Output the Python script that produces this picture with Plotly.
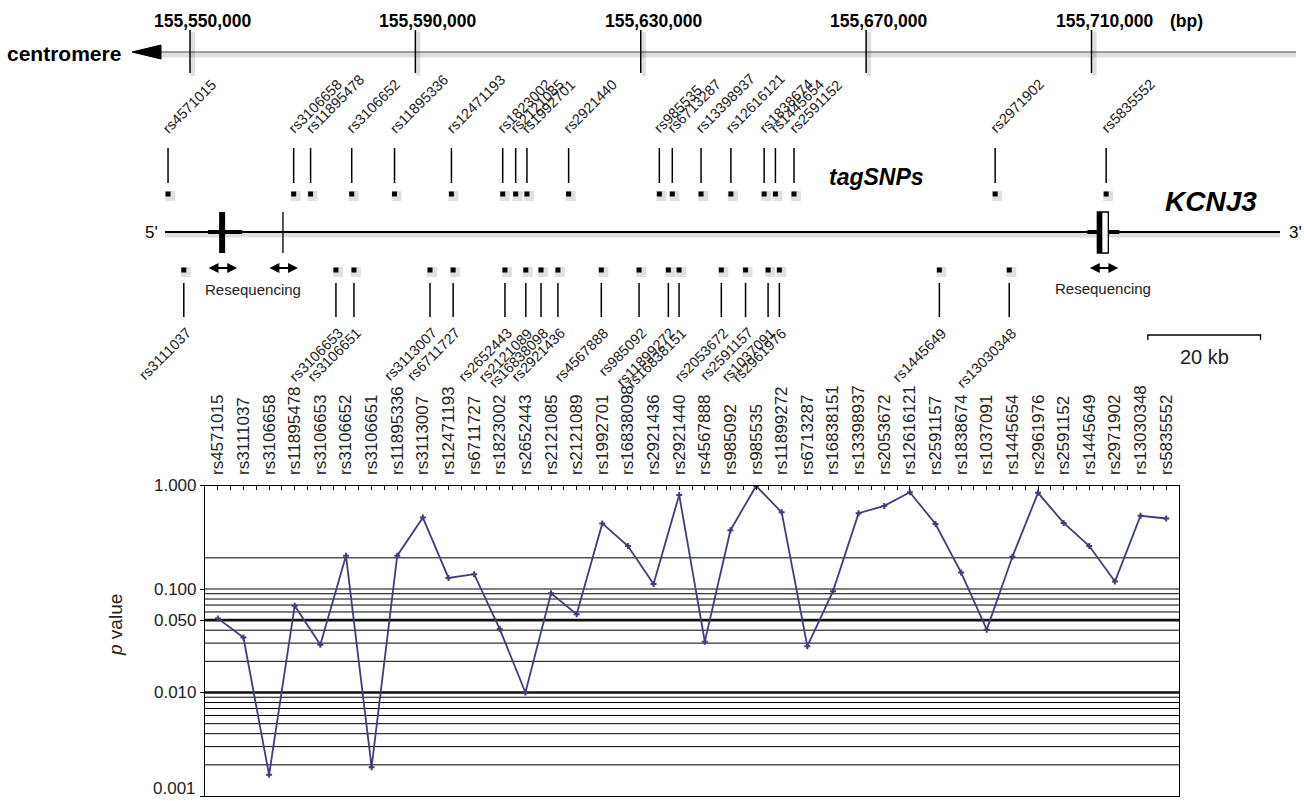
import numpy as np
import plotly.graph_objects as go

W, H = 1304, 801
FONT = "Liberation Sans, Arial, Helvetica, sans-serif"

# ---------------------------------------------------------------- data
# genomic coordinate ruler (bp)
region_ticks = [155550000, 155590000, 155630000, 155670000, 155710000]
region_tick_labels = ["155,550,000", "155,590,000", "155,630,000", "155,670,000", "155,710,000"]

# tag SNPs shown above the gene
tag_snp_ids = ["rs4571015", "rs3106658", "rs11895478", "rs3106652", "rs11895336",
               "rs12471193", "rs1823002", "rs2121085", "rs1992701", "rs2921440",
               "rs985535", "rs6713287", "rs13398937", "rs12616121", "rs1838674",
               "rs1445654", "rs2591152", "rs2971902", "rs5835552"]
tag_snp_pos = [155546100, 155568400, 155571400, 155578700, 155586300,
               155596400, 155605500, 155607800, 155609800, 155617200,
               155633300, 155635600, 155640700, 155646000, 155651900,
               155653900, 155657200, 155692900, 155712600]

# SNPs shown below the gene
other_snp_ids = ["rs3111037", "rs3106653", "rs3106651", "rs3113007", "rs6711727",
                 "rs2652443", "rs2121089", "rs16838098", "rs2921436", "rs4567888",
                 "rs985092", "rs11899272", "rs16838151", "rs2053672", "rs2591157",
                 "rs1037091", "rs2961976", "rs1445649", "rs13030348"]
other_snp_pos = [155548900, 155575900, 155579100, 155592600, 155596700,
                 155605900, 155609600, 155612300, 155615300, 155623000,
                 155629700, 155634900, 155636800, 155644300, 155648600,
                 155652600, 155654600, 155683000, 155695400]

# gene structure (bp)
exon_5p = 155555700
intron_mark = 155566500
exon_3p = 155712100
reseq_centres = [155555700, 155566500, 155712100]
scale_bar_bp = [155720000, 155740000]

# association results, ordered by position
assoc_snps = ["rs4571015", "rs3111037", "rs3106658", "rs11895478", "rs3106653",
              "rs3106652", "rs3106651", "rs11895336", "rs3113007", "rs12471193",
              "rs6711727", "rs1823002", "rs2652443", "rs2121085", "rs2121089",
              "rs1992701", "rs16838098", "rs2921436", "rs2921440", "rs4567888",
              "rs985092", "rs985535", "rs11899272", "rs6713287", "rs16838151",
              "rs13398937", "rs2053672", "rs12616121", "rs2591157", "rs1838674",
              "rs1037091", "rs1445654", "rs2961976", "rs2591152", "rs1445649",
              "rs2971902", "rs13030348", "rs5835552"]
assoc_p = [0.052, 0.034, 0.0016, 0.069, 0.029,
           0.21, 0.0019, 0.21, 0.49, 0.128,
           0.139, 0.041, 0.010, 0.091, 0.057,
           0.43, 0.26, 0.112, 0.81, 0.031,
           0.37, 0.99, 0.55, 0.028, 0.095,
           0.54, 0.635, 0.86, 0.425, 0.144,
           0.0405, 0.205, 0.85, 0.435, 0.26,
           0.118, 0.51, 0.48]

grid_p = [0.2, 0.1, 0.09, 0.08, 0.07, 0.06, 0.04, 0.03, 0.02,
          0.009, 0.008, 0.007, 0.006, 0.005, 0.004, 0.003, 0.002]
bold_p = [0.05, 0.01]
p_ticks = [1.0, 0.1, 0.05, 0.01, 0.001]
p_tick_labels = ["1.000", "0.100", "0.050", "0.010", "0.001"]

# ---------------------------------------------------------------- geometry
# upper panel: x2 in bp, y2 in screen pixels (0 at top)
PX_TICK0, PX_TICK_LAST = 190.0, 1091.5
BPP = (region_ticks[-1] - region_ticks[0]) / (PX_TICK_LAST - PX_TICK0)  # bp per pixel
x2_left = region_ticks[0] - PX_TICK0 * BPP
x2_right = x2_left + W * BPP


def px(v):
    """pixel distance -> bp distance in the upper panel"""
    return v * BPP


def xp(v):
    """screen x pixel -> paper fraction"""
    return v / W


AXIS_Y = 52
GENE_Y = 232
TAG_TICK = (148, 183)
TAG_SQ_Y = 194
LOW_SQ_Y = 270
LOW_TICK = (283, 317)
SHADOW = "rgba(0,0,0,0.13)"

fig = go.Figure()
shapes = []
ann = []

# ---- chromosome ruler
shapes.append(dict(type="line", xref="paper", yref="y2", x0=xp(160), x1=xp(1296),
                   y0=AXIS_Y + 3, y1=AXIS_Y + 3, line=dict(color=SHADOW, width=5)))
shapes.append(dict(type="line", xref="paper", yref="y2", x0=xp(158), x1=xp(1296),
                   y0=AXIS_Y, y1=AXIS_Y, line=dict(color="#444", width=1.2)))
shapes.append(dict(type="path", xref="paper", yref="y2",
                   path=f"M {xp(132)},{AXIS_Y} L {xp(161)},{AXIS_Y - 7} L {xp(161)},{AXIS_Y + 7} Z",
                   fillcolor="black", line=dict(color="black", width=1)))
ann.append(dict(x=xp(123), y=AXIS_Y + 1, xref="paper", yref="y2", text="<b>centromere</b>",
                showarrow=False, xanchor="right", yanchor="middle",
                font=dict(size=21, color="black", family=FONT)))
for t, lab in zip(region_ticks, region_tick_labels):
    shapes.append(dict(type="line", xref="x2", yref="y2", x0=t + px(3), x1=t + px(3),
                       y0=32, y1=76, line=dict(color=SHADOW, width=4)))
    shapes.append(dict(type="line", xref="x2", yref="y2", x0=t, x1=t, y0=30, y1=73,
                       line=dict(color="black", width=1.5)))
    ann.append(dict(x=t, y=21, xref="x2", yref="y2", text=f"<b>{lab}</b>", showarrow=False,
                    xanchor="center", yanchor="middle", xshift=13,
                    font=dict(size=17.5, color="black", family=FONT)))
ann.append(dict(x=region_ticks[-1], y=21, xref="x2", yref="y2", text="<b>(bp)</b>",
                showarrow=False, xanchor="center", yanchor="middle", xshift=95,
                font=dict(size=17.5, color="black", family=FONT)))

# ---- gene line
shapes.append(dict(type="line", xref="paper", yref="y2", x0=xp(165), x1=xp(1280),
                   y0=GENE_Y + 3, y1=GENE_Y + 3, line=dict(color=SHADOW, width=5)))
shapes.append(dict(type="line", xref="paper", yref="y2", x0=xp(165), x1=xp(1280),
                   y0=GENE_Y, y1=GENE_Y, line=dict(color="black", width=2)))
ann.append(dict(x=xp(151), y=GENE_Y, xref="paper", yref="y2", text="5'", showarrow=False,
                xanchor="center", yanchor="middle", font=dict(size=17, color="black", family=FONT)))
ann.append(dict(x=xp(1295), y=GENE_Y, xref="paper", yref="y2", text="3'", showarrow=False,
                xanchor="center", yanchor="middle", font=dict(size=17, color="black", family=FONT)))

# 5' exon
shapes.append(dict(type="rect", xref="x2", yref="y2", x0=exon_5p - px(14), x1=exon_5p + px(20),
                   y0=GENE_Y - 2, y1=GENE_Y + 2, fillcolor="black", line=dict(width=0)))
shapes.append(dict(type="rect", xref="x2", yref="y2", x0=exon_5p - px(3), x1=exon_5p + px(3),
                   y0=212, y1=253, fillcolor="black", line=dict(width=0)))
shapes.append(dict(type="line", xref="x2", yref="y2", x0=intron_mark, x1=intron_mark,
                   y0=212, y1=253, line=dict(color="black", width=1.3)))
# 3' exon
shapes.append(dict(type="rect", xref="x2", yref="y2", x0=exon_3p - px(16), x1=exon_3p + px(16),
                   y0=GENE_Y - 2, y1=GENE_Y + 2, fillcolor="black", line=dict(width=0)))
shapes.append(dict(type="rect", xref="x2", yref="y2", x0=exon_3p - px(6), x1=exon_3p + px(5),
                   y0=212, y1=253, fillcolor="white", line=dict(color="black", width=1.3)))
shapes.append(dict(type="rect", xref="x2", yref="y2", x0=exon_3p - px(6), x1=exon_3p - px(1),
                   y0=212, y1=253, fillcolor="black", line=dict(width=0)))

# resequenced regions
for c in reseq_centres:
    ann.append(dict(x=c + px(15), y=268, ax=c - px(15), ay=268, xref="x2", yref="y2",
                    axref="x2", ayref="y2", text="", showarrow=True, arrowside="end+start",
                    arrowhead=2, arrowsize=0.9, arrowwidth=2.2, arrowcolor="black"))
ann.append(dict(x=(reseq_centres[0] + reseq_centres[1]) / 2, y=289, xref="x2", yref="y2",
                text="Resequencing", showarrow=False, xanchor="center", yanchor="middle",
                font=dict(size=15, color="#222", family=FONT)))
ann.append(dict(x=reseq_centres[2], y=288, xref="x2", yref="y2", text="Resequencing",
                showarrow=False, xanchor="center", yanchor="middle",
                font=dict(size=15, color="#222", family=FONT)))

ann.append(dict(x=xp(877), y=177, xref="paper", yref="y2", text="<b><i>tagSNPs</i></b>",
                showarrow=False, xanchor="center", yanchor="middle",
                font=dict(size=23, color="black", family=FONT)))
ann.append(dict(x=xp(1211), y=201, xref="paper", yref="y2", text="<b><i>KCNJ3</i></b>",
                showarrow=False, xanchor="center", yanchor="middle",
                font=dict(size=28, color="black", family=FONT)))

# SNP ticks and labels
for sid, pos in zip(tag_snp_ids, tag_snp_pos):
    shapes.append(dict(type="line", xref="x2", yref="y2", x0=pos, x1=pos,
                       y0=TAG_TICK[0], y1=TAG_TICK[1], line=dict(color="black", width=1.5)))
    ann.append(dict(x=pos, y=139, xref="x2", yref="y2", text=sid, showarrow=False,
                    textangle=-45, xanchor="left", yanchor="bottom", xshift=-11,
                    font=dict(size=14.5, color="#222", family=FONT)))
for sid, pos in zip(other_snp_ids, other_snp_pos):
    shapes.append(dict(type="line", xref="x2", yref="y2", x0=pos, x1=pos,
                       y0=LOW_TICK[0], y1=LOW_TICK[1], line=dict(color="black", width=1.5)))
    ann.append(dict(x=pos, y=322, xref="x2", yref="y2", text=sid, showarrow=False,
                    textangle=-45, xanchor="right", yanchor="top", xshift=13,
                    font=dict(size=14.5, color="#222", family=FONT)))

# SNP squares with a soft shadow
for pos_list, yy in ((tag_snp_pos, TAG_SQ_Y), (other_snp_pos, LOW_SQ_Y)):
    fig.add_trace(go.Scatter(x=[p + px(2) for p in pos_list], y=[yy + 2] * len(pos_list),
                             xaxis="x2", yaxis="y2", mode="markers", hoverinfo="skip",
                             marker=dict(symbol="square", size=10, color="rgba(0,0,0,0.12)")))
    fig.add_trace(go.Scatter(x=pos_list, y=[yy] * len(pos_list), xaxis="x2", yaxis="y2",
                             mode="markers", hoverinfo="skip",
                             marker=dict(symbol="square", size=5, color="black")))

# 20 kb scale bar
shapes.append(dict(type="path", xref="x2", yref="y2",
                   path=f"M {scale_bar_bp[0]},340 L {scale_bar_bp[0]},335 L {scale_bar_bp[1]},335 L {scale_bar_bp[1]},340",
                   line=dict(color="black", width=1.3)))
ann.append(dict(x=sum(scale_bar_bp) / 2, y=357, xref="x2", yref="y2", text="20 kb",
                showarrow=False, xanchor="center", yanchor="middle",
                font=dict(size=20, color="#222", family=FONT)))

# ---------------------------------------------------------------- p-value panel
idx = np.arange(len(assoc_snps))
for v in grid_p:
    fig.add_trace(go.Scatter(x=[-0.5, len(assoc_snps) - 0.5], y=[v, v], mode="lines",
                             hoverinfo="skip", line=dict(color="black", width=1)))
for v in bold_p:
    fig.add_trace(go.Scatter(x=[-0.5, len(assoc_snps) - 0.5], y=[v, v], mode="lines",
                             hoverinfo="skip", line=dict(color="#111", width=2.6)))

fig.add_trace(go.Scatter(x=idx, y=assoc_p, mode="lines+markers",
                         line=dict(color="#3d3f7c", width=1.8),
                         marker=dict(symbol="cross", size=5, color="#3d3f7c"),
                         hovertext=assoc_snps))

half_ticks = np.arange(-0.5, len(assoc_snps), 0.5)
half_text = [assoc_snps[int(t)] if float(t).is_integer() else "" for t in half_ticks]

# the lowest p tick label sits on the page edge, so it is lifted slightly
y_tick_text = list(p_tick_labels[:-1]) + [""]
ann.append(dict(x=205 / W, y=1 - 796 / H, xref="paper", yref="paper",
                text=p_tick_labels[-1], showarrow=False, xanchor="right", yanchor="bottom",
                xshift=-7, yshift=-4, font=dict(size=17, color="#222", family=FONT)))

ann.append(dict(x=xp(115), y=1 - 625 / H, xref="paper", yref="paper",
                text="<i>p</i> value", showarrow=False, textangle=-90,
                xanchor="center", yanchor="middle",
                font=dict(size=19, color="#222", family=FONT)))

fig.update_layout(
    template="none",
    width=W, height=H, autosize=False,
    margin=dict(l=0, r=0, t=0, b=0, pad=0, autoexpand=False),
    paper_bgcolor="white", plot_bgcolor="rgba(0,0,0,0)",
    showlegend=False,
    font=dict(family=FONT, color="#222"),
    xaxis=dict(domain=[205 / W, 1179 / W], range=[-0.5, len(assoc_snps) - 0.5],
               side="top", anchor="y", tickmode="array", tickvals=half_ticks,
               ticktext=half_text, ticks="inside", ticklen=4, tickwidth=1, tickcolor="black",
               tickangle=-90, tickfont=dict(size=17, color="#222", family=FONT),
               ticklabelstandoff=6,
               showline=True, linecolor="black", linewidth=1.2, mirror=True,
               showgrid=False, zeroline=False, automargin=False),
    yaxis=dict(domain=[1 - 796 / H, 1 - 485.5 / H], type="log", range=[-3, 0],
               anchor="x", tickmode="array", tickvals=p_ticks, ticktext=y_tick_text,
               ticks="outside", ticklen=4, tickwidth=1.2, tickcolor="black",
               tickfont=dict(size=17, color="#222", family=FONT),
               showline=True, linecolor="black", linewidth=1.2, mirror=True,
               showgrid=False, zeroline=False, automargin=False),
    xaxis2=dict(domain=[0, 1], range=[x2_left, x2_right], anchor="y2", visible=False,
                automargin=False),
    yaxis2=dict(domain=[0, 1], range=[H, 0], anchor="x2", visible=False, automargin=False),
    shapes=shapes,
    annotations=ann,
)

fig.write_html("out.html")
